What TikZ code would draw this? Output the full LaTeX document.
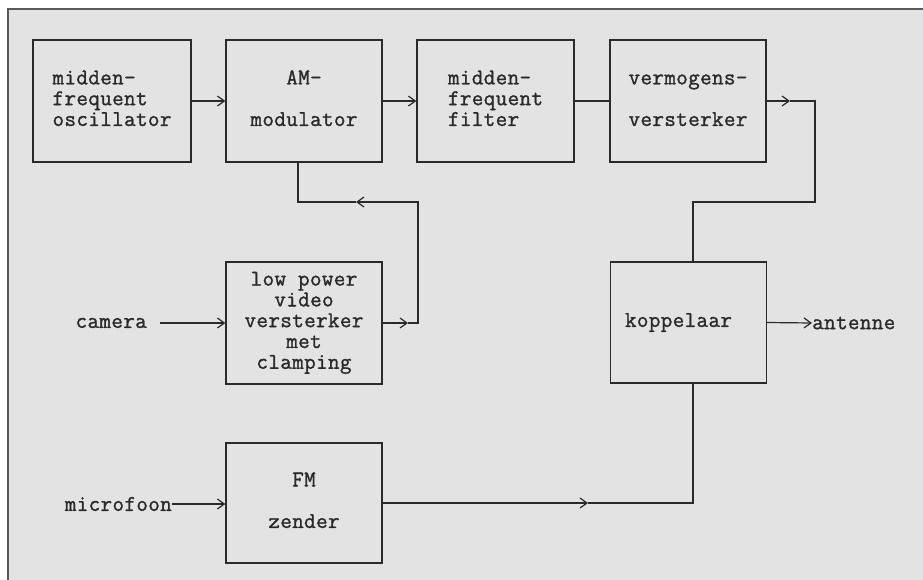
\documentclass[tikz,border=0pt]{standalone}
\usepackage{fontspec}
\newfontfamily\cour[LetterSpace=1.5,FakeBold=1.2]{Latin Modern Mono}
\usetikzlibrary{arrows.meta}
\definecolor{bg}{HTML}{E3E3E3}
\definecolor{ink}{HTML}{2A2A2A}
\begin{document}
\begin{tikzpicture}[x=1pt,y=-1pt,
  blok/.style={draw=ink,line width=1.2pt,minimum width=156pt,minimum height=122pt,inner sep=0pt,
    font=\fontsize{22.5}{20.8}\selectfont\cour,text=ink},
  lab/.style={font=\fontsize{22.5}{20.8}\selectfont\cour,text=ink,inner sep=0pt},
  wire/.style={draw=ink,line width=1.2pt},
  tip/.style={wire,-{Straight Barb[length=7pt,width=10pt,line width=1.2pt]}}]
\useasboundingbox (0,0) rectangle (923,579);
\fill[white] (0,0) rectangle (923,579);
\fill[bg] (8,9) rectangle (930,590);
\draw[gray!70!black,line width=1.4pt] (8,590) -- (8,9) -- (930,9);

\node[blok,minimum width=158pt] (osc) at (112,101) {\begin{tabular}{@{}l@{}}midden-\\frequent\\oscillator\end{tabular}};
\node[blok] (am) at (304,101) {\begin{tabular}{@{}c@{}}AM-\\ \\modulator\end{tabular}};
\node[blok,minimum width=157pt] (flt) at (495.5,101) {\begin{tabular}{@{}l@{}}midden-\\frequent\\filter\end{tabular}};
\node[blok] (pa) at (688,101) {\begin{tabular}{@{}l@{}}vermogens-\\ \\versterker\end{tabular}};
\node[blok] (vid) at (304,323) {\begin{tabular}{@{}c@{}}low power\\video\\versterker\\met\\clamping\end{tabular}};
\node[blok,minimum height=121pt] (kop) at (688.5,322.5) {koppelaar\hspace*{20pt}};
\node[blok,minimum height=120pt] (fm) at (304,503) {\begin{tabular}{@{}c@{}}FM\\ \\zender\end{tabular}};

\node[lab,anchor=east] (cam) at (147,323) {camera};
\node[lab,anchor=east] (mic) at (172,504) {microfoon};
\node[lab,anchor=west] (ant) at (812,323) {antenne};

\coordinate (c1) at (790,101);
\coordinate (c2) at (815,101);
\coordinate (c3) at (815,202);
\coordinate (c4) at (693,202);
\coordinate (d1) at (408,323);
\coordinate (d2) at (418,323);
\coordinate (d3) at (418,202);
\coordinate (d4) at (356,202);
\coordinate (d5) at (298,202);
\coordinate (e1) at (588,503);
\coordinate (e2) at (693,503);

\draw[tip] (osc.east) -- (am.west);
\draw[tip] (am.east) -- (flt.west);
\draw[wire] (flt.east) -- (pa.west);
\draw[tip] (pa.east) -- (c1);
\draw[wire] (c1) -- (c2) -- (c3) -- (c4) -- (kop.north -| c4);
\draw[tip] (vid.east |- d1) -- (d1);
\draw[tip] (d1) -- (d2) -- (d3) -- (d4);
\draw[wire] (d4) -- (d5) -- (am.south -| d5);
\draw[tip] ([xshift=13pt]cam.east) -- (vid.west);
\draw[tip] (mic.east) -- (fm.west |- mic.east);
\draw[tip] (fm.east |- e1) -- (e1);
\draw[wire] (e1) -- (e2) -- (kop.south -| e2);
\draw[tip] (kop.east) -- (ant.west);
\end{tikzpicture}
\end{document}
